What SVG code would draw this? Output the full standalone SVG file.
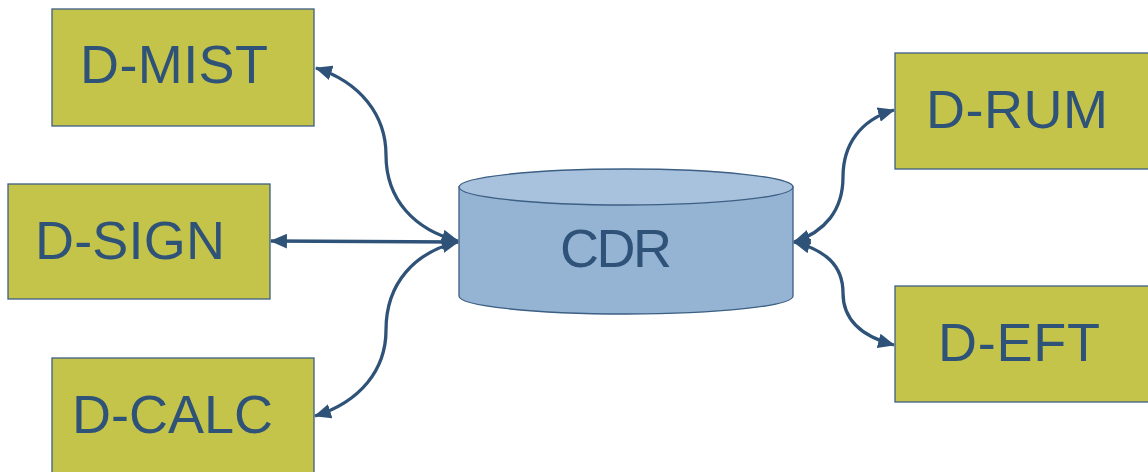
<svg xmlns="http://www.w3.org/2000/svg" width="1148" height="472" viewBox="0 0 1148 472">
<style>
.box{fill:#C5C44A;stroke:#3C5F84;stroke-width:1.3}
.lbl{font-family:"Liberation Sans",Arial,sans-serif;font-size:54px;fill:#2F5378}
.conn{fill:none;stroke:#2F5378;stroke-width:3.3}
</style>
<defs>
<marker id="arr" viewBox="0 0 16 14" refX="15" refY="7" markerWidth="17" markerHeight="15" markerUnits="userSpaceOnUse" orient="auto-start-reverse">
<path d="M0,0 L16,7 L0,14 z" fill="#2F5378"/>
</marker>
</defs>
<rect width="1148" height="472" fill="#FFFFFF"/>
<g id="connectors">
<path class="conn" d="M316,68 C360,82 386,115 386,155 C386,200 415,230 458,241" marker-start="url(#arr)" marker-end="url(#arr)"/>
<path class="conn" d="M271,241 L458,242" marker-start="url(#arr)" marker-end="url(#arr)"/>
<path class="conn" d="M315,416 C360,402 386,370 386,330 C386,283 415,252 458,242" marker-start="url(#arr)" marker-end="url(#arr)"/>
<path class="conn" d="M894,110 C860,120 843,145 843,177 C843,210 825,232 794,242" marker-start="url(#arr)" marker-end="url(#arr)"/>
<path class="conn" d="M894,345 C860,336 843,318 843,293 C843,265 825,250 794,242" marker-start="url(#arr)" marker-end="url(#arr)"/>
</g>
<g id="cdr">
<path d="M459,187 L459,296 A167,18 0 0 0 793,296 L793,187 Z" fill="#95B3D3" stroke="#3C5F84" stroke-width="1.3"/>
<ellipse cx="626" cy="187" rx="167" ry="18" fill="#A8C2DD" stroke="#3C5F84" stroke-width="1.3"/>
<text class="lbl" x="560" y="267" textLength="112">CDR</text>
</g>
<g id="d-mist">
<rect class="box" x="52" y="9" width="262" height="117"/>
<text class="lbl" x="80" y="83" textLength="188">D-MIST</text>
</g>
<g id="d-sign">
<rect class="box" x="8" y="184" width="262" height="115"/>
<text class="lbl" x="35" y="259" textLength="190">D-SIGN</text>
</g>
<g id="d-calc">
<rect class="box" x="52" y="358" width="262" height="120"/>
<text class="lbl" x="72" y="433" textLength="201">D-CALC</text>
</g>
<g id="d-rum">
<rect class="box" x="895" y="53" width="260" height="116"/>
<text class="lbl" x="926" y="128" textLength="182">D-RUM</text>
</g>
<g id="d-eft">
<rect class="box" x="895" y="286" width="260" height="116"/>
<text class="lbl" x="938" y="361" textLength="162">D-EFT</text>
</g>
</svg>
